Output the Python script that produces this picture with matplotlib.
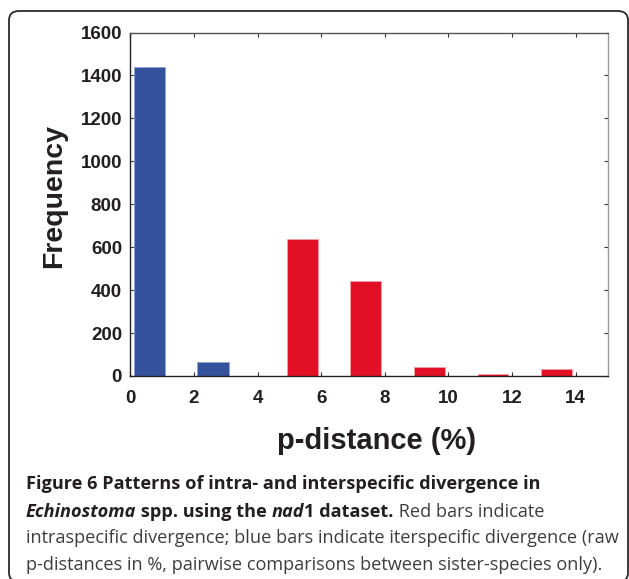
import matplotlib
matplotlib.use("Agg")
import matplotlib.pyplot as plt
from matplotlib.patches import FancyBboxPatch

# ---- data ----
blue_centers = [0.6, 2.6]
blue_counts = [1440, 67]
red_centers = [5.42, 7.4, 9.4, 11.4, 13.4]
red_counts = [636, 442, 42, 9, 34]
x_ticks = [0, 2, 4, 6, 8, 10, 12, 14]
y_ticks = [0, 200, 400, 600, 800, 1000, 1200, 1400, 1600]
x_label = "p-distance (%)"
y_label = "Frequency"
caption_lines = [
    [("Figure 6 Patterns of intra- and interspecific divergence in", "bold", "normal")],
    [("Echinostoma", "bold", "italic"), (" spp. using the ", "bold", "normal"),
     ("nad", "bold", "italic"), ("1 dataset.", "bold", "normal"),
     (" Red bars indicate", "normal", "normal")],
    [("intraspecific divergence; blue bars indicate iterspecific divergence (raw", "normal", "normal")],
    [("p-distances in %, pairwise comparisons between sister-species only).", "normal", "normal")],
]

W, H = 629, 579
fig = plt.figure(figsize=(W / 100, H / 100), dpi=100)
fig.patch.set_facecolor("white")

def fx(px):
    return px / W

def fy(py):
    return 1 - py / H

# rounded frame (bottom edge just outside the picture, as in the reference)
box = FancyBboxPatch((fx(9), fy(582)), fx(628) - fx(9), fy(11) - fy(582),
                     boxstyle="round,pad=0,rounding_size=0.016",
                     transform=fig.transFigure, facecolor="none",
                     edgecolor="#2a2a2a", linewidth=1.3, zorder=0)
fig.patches.append(box)

left, right, top, bottom = 130.4, 607.5, 32.5, 376
ax = fig.add_axes([fx(left), fy(bottom), fx(right) - fx(left), fy(top) - fy(bottom)])

ax.bar(blue_centers, blue_counts, width=1.0, color="#34519d",
       edgecolor="#8fa3d6", linewidth=0.6, zorder=2)
ax.bar(red_centers, red_counts, width=0.97, color="#e30f25",
       edgecolor="#f4a0a8", linewidth=0.6, zorder=2)

ax.set_xlim(0, 15)
ax.set_ylim(0, 1600)
ax.set_xticks(x_ticks)
ax.set_yticks(y_ticks)
ax.set_xticklabels([str(v) for v in x_ticks])
ax.set_yticklabels([str(v) for v in y_ticks])

for lab in ax.get_xticklabels() + ax.get_yticklabels():
    lab.set_fontfamily("Liberation Sans")
    lab.set_fontweight("bold")
    lab.set_fontsize(13.5)
    lab.set_color("#231f20")

ax.tick_params(axis="both", direction="in", length=3, width=0.8,
               top=True, right=True, colors="#333333")
ax.tick_params(axis="x", pad=10, labelcolor="#231f20")
ax.tick_params(axis="y", pad=6, labelcolor="#231f20")

ax.spines["left"].set_color("#222222")
ax.spines["bottom"].set_color("#222222")
ax.spines["top"].set_color("#555555")
ax.spines["right"].set_color("#999999")
for s in ax.spines.values():
    s.set_linewidth(1.0)

fig.text(fx(54), fy(196), y_label, rotation=90, ha="center", va="center",
         family="Liberation Sans", weight="bold", size=20.5, color="#231f20")
fig.text(fx(376.5), fy(441), x_label, ha="center", va="center",
         family="Liberation Sans", weight="bold", size=21, color="#231f20")

# caption: fit font size so line 3 spans the measured width
cap_family = "Open Sans"
renderer = fig.canvas.get_renderer()
probe = fig.text(0, 0, caption_lines[2][0][0], family=cap_family, size=10)
w10 = probe.get_window_extent(renderer).width
probe.remove()
cap_size = 10 * (620 - 26) / w10

baselines = [489.3, 516.7, 543.3, 570]
for line, base in zip(caption_lines, baselines):
    xpos = 26.0
    for txt, weight, style in line:
        color = "#231f20" if weight == "bold" else "#3d3d3d"
        t = fig.text(fx(xpos), fy(base), txt, family=cap_family, weight=weight,
                     style=style, size=cap_size, color=color, ha="left", va="baseline")
        xpos += t.get_window_extent(renderer).width

fig.savefig("out.png", dpi=100, facecolor="white")
